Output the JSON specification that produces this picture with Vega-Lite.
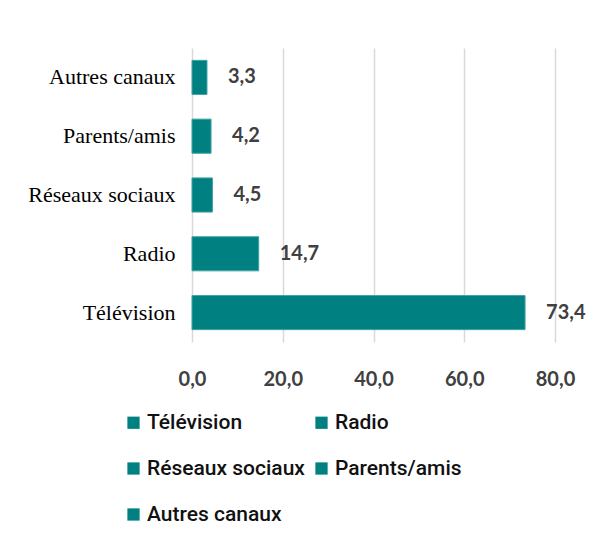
{
  "$schema": "https://vega.github.io/schema/vega-lite/v6.json",
  "width": 363,
  "height": 294,
  "padding": {"left": 12, "top": 48, "right": 5, "bottom": 5},
  "background": "white",
  "config": {
    "locale": {"number": {"decimal": ",", "thousands": " ", "grouping": [3], "currency": ["", " €"]}},
    "view": {"stroke": null},
    "axis": {"gridColor": "#d9d9d9", "gridWidth": 1.5}
  },
  "data": {
    "values": [
      {"canal": "Télévision", "part": 73.4},
      {"canal": "Radio", "part": 14.7},
      {"canal": "Réseaux sociaux", "part": 4.5},
      {"canal": "Parents/amis", "part": 4.2},
      {"canal": "Autres canaux", "part": 3.3}
    ]
  },
  "encoding": {
    "y": {
      "field": "canal", "type": "nominal", "sort": {"field": "part", "order": "ascending"},
      "scale": {"paddingInner": 0.42, "paddingOuter": 0.21},
      "axis": {"title": null, "domain": false, "ticks": false, "labelPadding": 17, "minExtent": 180, "maxExtent": 180,
        "labelFont": "Liberation Serif", "labelFontSize": 22, "labelColor": "#000000", "labelLimit": 200}
    },
    "x": {
      "field": "part", "type": "quantitative",
      "scale": {"domain": [0, 80], "nice": false},
      "axis": {"title": null, "values": [0, 20, 40, 60, 80], "format": ".1f", "domain": false, "ticks": false, "labelFlush": false,
        "labelPadding": 27, "labelFont": "Lato", "labelFontWeight": "bold", "labelFontSize": 20, "labelColor": "#404040"}
    }
  },
  "layer": [
    {
      "mark": {"type": "bar", "fill": "#008080", "stroke": "#3fa3a3", "strokeWidth": 1},
      "encoding": {
        "color": {
          "field": "canal", "type": "nominal",
          "scale": {"domain": ["Télévision", "Radio", "Réseaux sociaux", "Parents/amis", "Autres canaux"],
            "range": ["#008080", "#008080", "#008080", "#008080", "#008080"]},
          "legend": {"title": null, "orient": "none", "legendX": -69, "legendY": 364, "columns": 2,
            "direction": "horizontal", "padding": 0, "symbolType": "square", "symbolSize": 150, "symbolStrokeWidth": 0,
            "labelFont": "Roboto", "labelFontSize": 21, "labelFontWeight": 500, "labelColor": "#111111", "labelOffset": 3,
            "columnPadding": 6, "rowPadding": 24, "labelLimit": 300}
        }
      }
    },
    {
      "mark": {"type": "text", "align": "left", "dx": 21, "font": "Lato", "fontWeight": "bold", "fontSize": 20, "color": "#404040"},
      "encoding": {"text": {"field": "part", "type": "quantitative", "format": ".1f"}}
    }
  ]
}
